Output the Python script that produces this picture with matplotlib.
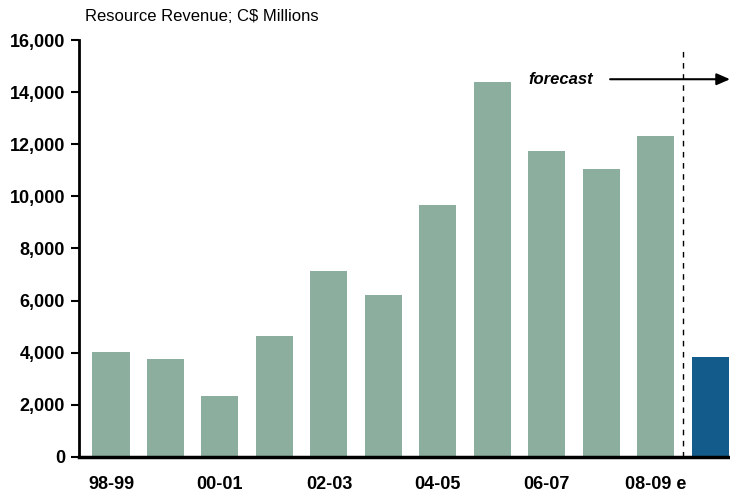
"""Resource revenue bar chart (C$ millions), fiscal years with forecast."""
import matplotlib

matplotlib.use("Agg")

import matplotlib.pyplot as plt
from matplotlib.ticker import FuncFormatter

plt.rcParams["font.family"] = ["Liberation Sans", "DejaVu Sans"]

YEARS = ["98-99", "99-00", "00-01", "01-02", "02-03", "03-04",
         "04-05", "05-06", "06-07", "07-08", "08-09 e", "09-10"]
REVENUE = [4030, 3770, 2350, 4640, 7140, 6220, 9660, 14380, 11740, 11040, 12310, 3850]
IS_FORECAST = [False] * 11 + [True]
TICK_YEARS = ["98-99", "00-01", "02-03", "04-05", "06-07", "08-09 e"]

GREEN = "#8bae9f"
BLUE = "#135b8b"

fig = plt.figure(figsize=(7.3, 4.96), dpi=100)
ax = fig.add_axes([0.108, 0.079, 0.892, 0.840])

x = list(range(len(YEARS)))
colors = [BLUE if f else GREEN for f in IS_FORECAST]
ax.bar(x, REVENUE, width=0.68, color=colors, zorder=2)

ax.set_xlim(-0.59, 11.36)
ax.set_ylim(0, 16000)
ax.set_yticks(range(0, 16001, 2000))
ax.yaxis.set_major_formatter(FuncFormatter(lambda v, _: f"{v:,.0f}"))

ax.set_xticks([YEARS.index(t) for t in TICK_YEARS])
ax.set_xticklabels(TICK_YEARS)
ax.tick_params(axis="x", length=0, pad=14, labelsize=13)
ax.tick_params(axis="y", length=6, width=1.5, direction="out", labelsize=13, pad=4)
for lab in ax.get_xticklabels() + ax.get_yticklabels():
    lab.set_fontweight("bold")

for side in ["top", "right"]:
    ax.spines[side].set_visible(False)
ax.spines["left"].set_linewidth(2)
ax.spines["bottom"].set_linewidth(2.5)

# 予測区間の区切り線と矢印
split = 10.5
ax.plot([split, split], [0, 15750], color="black", linestyle=(0, (4, 4)),
        linewidth=1, clip_on=False, zorder=3)
ax.annotate("", xy=(11.36, 14500), xytext=(9.16, 14500),
            arrowprops=dict(arrowstyle="-|>,head_length=0.8,head_width=0.35",
                            color="black", lw=1.5, shrinkA=0, shrinkB=0),
            annotation_clip=False)
ax.text(8.25, 14500, "forecast", ha="center", va="center",
        fontsize=12, fontweight="bold", fontstyle="italic")

fig.text(0.117, 0.967, "Resource Revenue; C$ Millions", ha="left", va="center",
         fontsize=12)

fig.savefig("out.png", dpi=100)
